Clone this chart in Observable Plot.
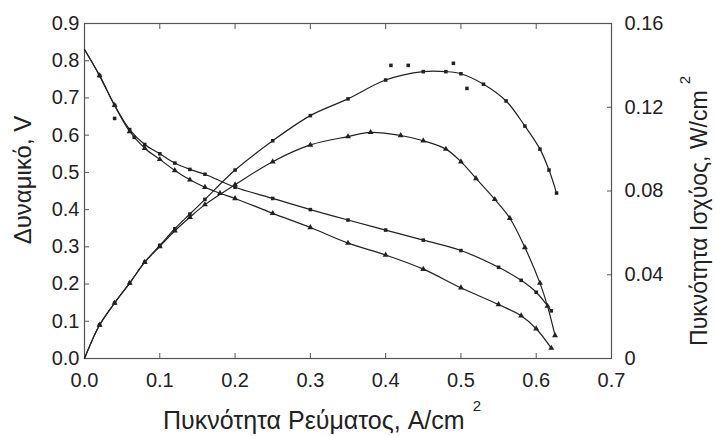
<!DOCTYPE html>
<html><head><meta charset="utf-8">
<script src="https://cdn.jsdelivr.net/npm/d3@7"></script>
<script src="https://cdn.jsdelivr.net/npm/@observablehq/plot@0.6"></script>
<style>
html,body{margin:0;padding:0;background:#fff;}
#chart{position:relative;width:716px;height:436px;}
</style>
</head><body><div id="chart"></div>
<script>
// Current density, A/cm^2 (voltage curves)
const iV_A = [0, 0.02, 0.04, 0.06, 0.08, 0.10, 0.12, 0.14, 0.16, 0.20, 0.25, 0.30, 0.35, 0.40, 0.45, 0.50, 0.55, 0.58, 0.60, 0.62];
const vA   = [0.83, 0.76, 0.68, 0.615, 0.575, 0.55, 0.525, 0.508, 0.495, 0.46, 0.43, 0.40, 0.372, 0.345, 0.318, 0.29, 0.245, 0.21, 0.178, 0.128];
const iV_B = [0, 0.02, 0.04, 0.06, 0.08, 0.10, 0.12, 0.14, 0.16, 0.18, 0.20, 0.25, 0.30, 0.35, 0.40, 0.45, 0.50, 0.55, 0.58, 0.60, 0.62];
const vB   = [0.83, 0.76, 0.68, 0.61, 0.565, 0.535, 0.505, 0.48, 0.46, 0.444, 0.43, 0.39, 0.352, 0.31, 0.278, 0.24, 0.19, 0.145, 0.115, 0.08, 0.028];
// Power density, W/cm^2
const iP_A = [0, 0.02, 0.04, 0.06, 0.08, 0.10, 0.12, 0.14, 0.16, 0.20, 0.25, 0.30, 0.35, 0.40, 0.45, 0.48, 0.50, 0.53, 0.56, 0.585, 0.605, 0.617, 0.627];
const pA   = [0, 0.016, 0.0265, 0.036, 0.046, 0.054, 0.062, 0.069, 0.076, 0.09, 0.104, 0.116, 0.124, 0.133, 0.137, 0.137, 0.136, 0.131, 0.123, 0.111, 0.100, 0.090, 0.079];
const iP_B = [0, 0.02, 0.04, 0.06, 0.08, 0.10, 0.12, 0.14, 0.16, 0.20, 0.25, 0.30, 0.35, 0.38, 0.42, 0.45, 0.48, 0.50, 0.52, 0.545, 0.565, 0.585, 0.605, 0.615, 0.625];
const pB   = [0, 0.016, 0.0265, 0.036, 0.046, 0.0535, 0.061, 0.0675, 0.0735, 0.083, 0.094, 0.102, 0.106, 0.108, 0.1065, 0.104, 0.10, 0.094, 0.086, 0.076, 0.067, 0.053, 0.036, 0.025, 0.011];
// scattered measured points off the fitted curve
const outI = [0.407, 0.43, 0.49, 0.508, 0.04, 0.066];
const outP = [0.140, 0.140, 0.141, 0.129, null, null];
const outV = [null, null, null, null, 0.645, 0.594];

const xTicks = [0, 0.1, 0.2, 0.3, 0.4, 0.5, 0.6, 0.7];
const vTicks = [0, 0.1, 0.2, 0.3, 0.4, 0.5, 0.6, 0.7, 0.8, 0.9];
const pTicks = [0, 0.04, 0.08, 0.12, 0.16];
const k = 0.9 / 0.16;

const A = iV_A.map((x, i) => ({x, y: vA[i]}));
const B = iV_B.map((x, i) => ({x, y: vB[i]}));
const PA = iP_A.map((x, i) => ({x, y: pA[i] * k}));
const PB = iP_B.map((x, i) => ({x, y: pB[i] * k}));
const O = outI.map((x, i) => ({x, y: outP[i] != null ? outP[i] * k : outV[i]}));

const ink = "#222";
const font = "'Liberation Sans', Arial, sans-serif";

const plot = Plot.plot({
  width: 716, height: 436,
  marginLeft: 84, marginRight: 105, marginTop: 23, marginBottom: 78,
  style: {fontFamily: font, color: ink, background: "#fff"},
  x: {domain: [0, 0.7]},
  y: {domain: [0, 0.9]},
  marks: [
    Plot.frame({stroke: "#555", strokeWidth: 1.2}),
    Plot.axisX({ticks: xTicks, tickSize: -5, tickFormat: () => "", stroke: "#555", label: null}),
    Plot.axisX({anchor: "top", ticks: xTicks, tickSize: -5, tickFormat: () => "", stroke: "#555", label: null}),
    Plot.axisX({ticks: xTicks, tickSize: 0, tickPadding: 14, tickFormat: d => d.toFixed(1), fontSize: 20, label: null}),
    Plot.axisY({ticks: vTicks, tickSize: -5, tickFormat: () => "", stroke: "#555", label: null}),
    Plot.axisY({ticks: vTicks, tickSize: 0, tickPadding: 5, tickFormat: d => d.toFixed(1), fontSize: 20, label: null}),
    Plot.axisY({anchor: "right", ticks: pTicks.map(p => p * k), tickSize: -5, tickFormat: () => "", stroke: "#555", label: null}),
    Plot.axisY({anchor: "right", ticks: pTicks.map(p => p * k), tickSize: 0, tickPadding: 13, tickFormat: d => { const p = d / k; return p === 0 ? "0" : p.toFixed(2); }, fontSize: 20, label: null}),
    Plot.line(A, {x: "x", y: "y", curve: "catmull-rom", stroke: ink, strokeWidth: 1.2}),
    Plot.line(B, {x: "x", y: "y", curve: "catmull-rom", stroke: ink, strokeWidth: 1.2}),
    Plot.line(PA, {x: "x", y: "y", curve: "catmull-rom", stroke: ink, strokeWidth: 1.2}),
    Plot.line(PB, {x: "x", y: "y", curve: "catmull-rom", stroke: ink, strokeWidth: 1.2}),
    Plot.dot(A.slice(1), {x: "x", y: "y", symbol: "square", r: 2, fill: ink}),
    Plot.dot(PA.slice(1), {x: "x", y: "y", symbol: "square", r: 2, fill: ink}),
    Plot.dot(B.slice(1), {x: "x", y: "y", symbol: "triangle", r: 2.2, fill: ink}),
    Plot.dot(PB.slice(1), {x: "x", y: "y", symbol: "triangle", r: 2.2, fill: ink}),
    Plot.dot(O, {x: "x", y: "y", symbol: "square", r: 2, fill: ink})
  ]
});
document.getElementById("chart").appendChild(plot);

// Axis titles with superscripts
const svg = d3.select(plot);
const g = svg.append("g").attr("font-family", font).attr("fill", ink);
const xt = g.append("text").attr("x", 163).attr("y", 429).attr("text-anchor", "start").attr("font-size", 25);
xt.append("tspan").text("Πυκνότητα Ρεύματος, A/cm");
xt.append("tspan").attr("dx", 8).attr("dy", -18).attr("font-size", 15).text("2");
g.append("text").attr("transform", "translate(31,180) rotate(-90)").attr("text-anchor", "middle").attr("font-size", 24).text("Δυναμικό, V");
const rt = g.append("text").attr("transform", "translate(707,211) rotate(-90)").attr("text-anchor", "middle").attr("font-size", 23);
rt.append("tspan").text("Πυκνότητα Ισχύος, W/cm");
rt.append("tspan").attr("dx", 6).attr("dy", -17).attr("font-size", 15).text("2");
</script>
</body></html>
